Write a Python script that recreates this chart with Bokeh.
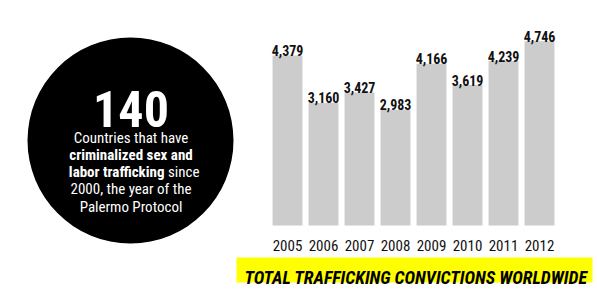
from bokeh.plotting import figure
from bokeh.models import Range1d, ColumnDataSource
from bokeh.core.properties import value
from bokeh.embed import file_html
from bokeh.resources import INLINE

# ---- data ----
years = ["2005", "2006", "2007", "2008", "2009", "2010", "2011", "2012"]
convictions = [4379, 3160, 3427, 2983, 4166, 3619, 4239, 4746]
big_number = "140"
circle_lines = [
    [("Countries that have", "normal")],
    [("criminalized sex and", "bold")],
    [("labor trafficking", "bold"), ("since", "normal")],
    [("2000, the year of the", "normal")],
    [("Palermo Protocol", "normal")],
]
banner_title = "TOTAL TRAFFICKING CONVICTIONS WORLDWIDE"

FONT = "Roboto Condensed"
W, H = 597, 300

p = figure(width=W, height=H, output_backend="svg", toolbar_location=None,
           x_range=Range1d(0, W), y_range=Range1d(H, 0),
           min_border=0, min_border_left=0, min_border_right=0,
           min_border_top=0, min_border_bottom=0)
p.axis.visible = False
p.grid.visible = False
p.outline_line_color = None
p.background_fill_color = "white"
p.border_fill_color = "white"

# bar scales: 36 px per category, value 0 at y=225px, 0.0388 px per unit
px_per_cat = 36.0
first_center = 287.0
p.extra_x_ranges = {"yr": Range1d(-first_center / px_per_cat, (W - first_center) / px_per_cat)}
base_px = 225.0
px_per_val = 0.0388
p.extra_y_ranges = {"val": Range1d(-(H - base_px) / px_per_val, base_px / px_per_val)}

idx = list(range(len(years)))
src = ColumnDataSource(dict(x=idx, top=convictions, year=years,
                            lab=[f"{v:,}" for v in convictions],
                            ypos=[245] * len(years)))

p.vbar(x="x", top="top", bottom=0, width=0.83, source=src,
       x_range_name="yr", y_range_name="val",
       fill_color="#cccccc", line_color=None)
p.text(x="x", y="top", text="lab", source=src,
       x_range_name="yr", y_range_name="val",
       text_align="center", text_baseline="alphabetic", y_offset=-5,
       text_font=value(FONT), text_font_style="bold",
       text_font_size="14px", text_color="#111111")
p.text(x="x", y="ypos", text="year", source=src, x_range_name="yr",
       text_align="center", text_baseline="alphabetic",
       text_font=value(FONT), text_font_size="15px", text_color="#111111")

# banner
p.rect(x=414, y=269.5, width=356, height=25, fill_color="#ffff00", line_color=None)
p.text(x=[415.5], y=[276.5], text=[banner_title], text_align="center",
       text_baseline="alphabetic", text_font=value(FONT),
       text_font_style="bold italic", text_font_size="18px", text_color="#000000")

# circle callout
p.circle(x=[130], y=[140], radius=103, fill_color="#000000", line_color=None)
p.text(x=[130.5], y=[108], text=[big_number], text_align="center",
       text_baseline="alphabetic", text_font=value(FONT),
       text_font_style="bold", text_font_size="50px", text_color="white")

baselines = [137, 154.3, 171.6, 188.9, 206.2]
for line, yb in zip(circle_lines, baselines):
    if len(line) == 1:
        txt, st = line[0]
        p.text(x=[130.5], y=[yb], text=[txt], text_align="center",
               text_baseline="alphabetic", text_font=value(FONT),
               text_font_style=st, text_font_size="15px", text_color="white")
    else:
        split = 164
        (t1, s1), (t2, s2) = line
        p.text(x=[split], y=[yb], text=[t1], text_align="right",
               text_baseline="alphabetic", text_font=value(FONT),
               text_font_style=s1, text_font_size="15px", text_color="white")
        p.text(x=[split + 3.5], y=[yb], text=[t2], text_align="left",
               text_baseline="alphabetic", text_font=value(FONT),
               text_font_style=s2, text_font_size="15px", text_color="white")

open("out.html", "w").write(file_html(p, INLINE))
